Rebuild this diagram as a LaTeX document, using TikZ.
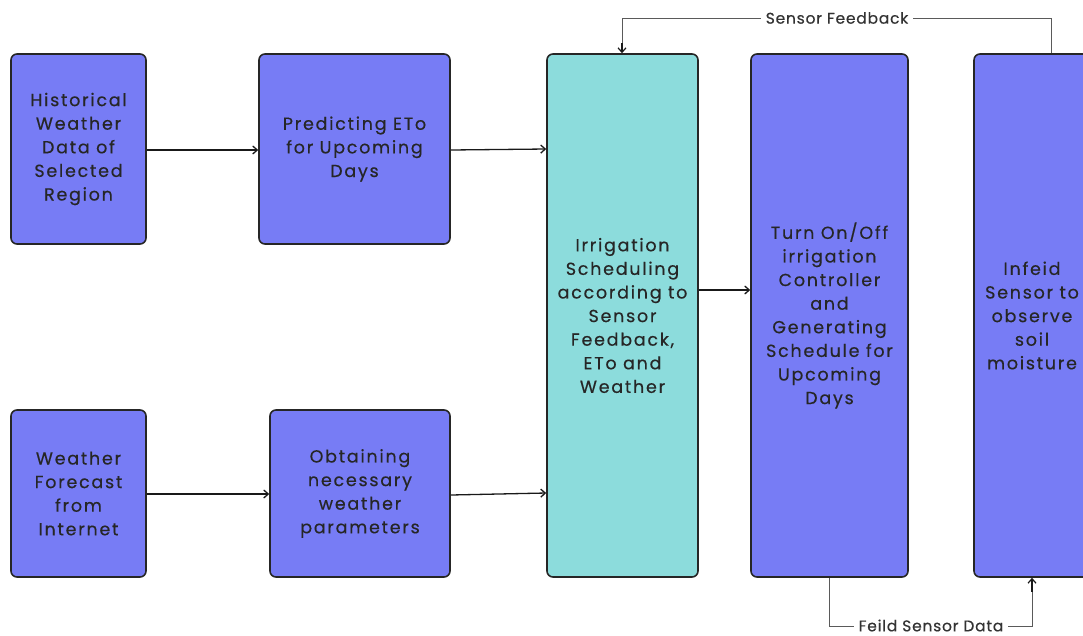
\documentclass[tikz,border=0pt]{standalone}
\usepackage{fontspec}
\setmainfont[LetterSpace=10,FakeBold=0.4]{Poppins}
\usetikzlibrary{arrows.meta}
\definecolor{boxblue}{RGB}{119,124,245}
\definecolor{boxcyan}{RGB}{140,220,220}
\definecolor{fbgray}{RGB}{90,90,90}
\tikzset{
  blk/.style={draw=black!85, line width=1.6pt, rounded corners=6pt, fill=boxblue, align=center, inner sep=0pt, font=\fontsize{17.5}{23.6}\selectfont, text=black!85},
  cblk/.style={blk, fill=boxcyan},
  arr/.style={-{Straight Barb[length=4.5pt,width=8pt]}, line width=1.3pt, black!90},
  fb/.style={line width=1pt, fbgray},
  lbl/.style={fill=white, inner xsep=5pt, inner ysep=0.5pt, font=\fontsize{15.5}{18}\selectfont\addfontfeature{LetterSpace=5}, text=black!80}
}
\begin{document}
\begin{tikzpicture}[x=1pt,y=-1pt]
\useasboundingbox (0,0) rectangle (1083,635);
\clip (0,0) rectangle (1083,635);
\node[blk, minimum width=135pt, minimum height=190pt] (hist) at (78.5,149) {Historical\\Weather\\Data of\\Selected\\Region};
\node[blk, minimum width=191pt, minimum height=190pt] (pred) at (354.5,149) {Predicting ETo\\for Upcoming\\Days};
\node[blk, minimum width=135pt, minimum height=167pt] (fore) at (78.5,493.5) {Weather\\Forecast\\from\\Internet};
\node[blk, minimum width=180pt, minimum height=167pt] (obt) at (360,493.5) {Obtaining\\necessary\\weather\\parameters};
\node[cblk, minimum width=151pt, minimum height=523pt] (irr) at (622.5,315.5) {Irrigation\\Scheduling\\according to\\Sensor\\Feedback,\\ETo and\\Weather};
\node[blk, minimum width=157pt, minimum height=523pt] (turn) at (829.5,315.5) {Turn On/Off\\irrigation\\Controller\\and\\Generating\\Schedule for\\Upcoming\\Days};
\node[blk, minimum width=116pt, minimum height=523pt] (inf) at (1032,315.5) {Infeid\\Sensor to\\observe\\soil\\moisture};
\draw[arr] (hist.east |- 0,150) -- (pred.west |- 0,150);
\draw[arr] (pred.east |- 0,150) -- (irr.west |- 0,149);
\draw[arr] (fore.east |- 0,494) -- (obt.west |- 0,494);
\draw[arr] (obt.east |- 0,495) -- (irr.west |- 0,493);
\draw[arr] (irr.east |- 0,290) -- (turn.west |- 0,290);
\coordinate (t1) at (1051,18);
\coordinate (t2) at (622,18);
\draw[fb] (inf.north -| t1) -- (t1) -- (t2) -- ([yshift=8pt]t2 |- irr.north);
\draw[arr, line width=1.2pt] ([yshift=10pt]t2 |- irr.north) -- (t2 |- irr.north);
\node[lbl] (sf) at (837,18) {Sensor Feedback};
\coordinate (b1) at (829,626);
\coordinate (b2) at (1032,626);
\draw[fb] (turn.south -| b1) -- (b1) -- (b2) -- ([yshift=-12pt]b2 |- inf.south);
\draw[arr, line width=1.2pt] ([yshift=-14pt]b2 |- inf.south) -- (b2 |- inf.south);
\node[lbl] (fsd) at (931,625.5) {Feild Sensor Data};
\end{tikzpicture}
\end{document}
